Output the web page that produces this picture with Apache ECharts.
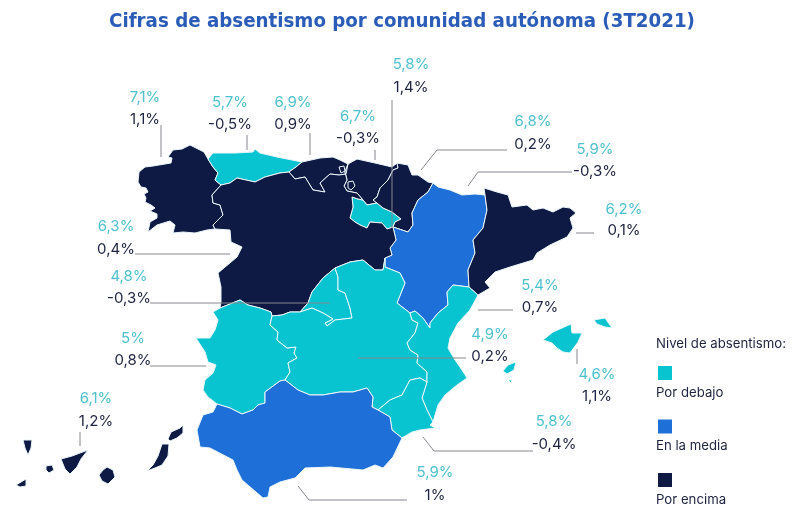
<!DOCTYPE html>
<html lang="es">
<head>
<meta charset="UTF-8">
<title>Absentismo</title>
<script src="https://cdn.jsdelivr.net/npm/echarts@6/dist/echarts.min.js"></script>
</head>
<body style="margin:0;background:#fff">
<div id="main" style="width:804px;height:525px"></div>
<script type="text/javascript">
// datos
var comunidades = ['Galicia', 'Asturias', 'Cantabria', 'País Vasco', 'La Rioja', 'Navarra', 'Aragón', 'Cataluña',
    'Castilla y León', 'Madrid', 'Extremadura', 'Castilla-La Mancha', 'C. Valenciana', 'Baleares', 'Murcia', 'Andalucía', 'Canarias'];
var tasa = [7.1, 5.7, 6.9, 6.7, 5.8, 6.8, 5.9, 6.2, 6.3, 4.8, 5, 4.9, 5.4, 4.6, 5.8, 5.9, 6.1];
var variacion = [1.1, -0.5, 0.9, -0.3, 1.4, 0.2, -0.3, 0.1, 0.4, -0.3, 0.8, 0.2, 0.7, 1.1, -0.4, 1, 1.2];
var nivel = [2, 0, 2, 2, 0, 2, 1, 2, 2, 0, 0, 0, 0, 0, 0, 1, 2];
var niveles = ['Por debajo', 'En la media', 'Por encima'];
var coloresNivel = ['#08c4d1', '#1f6fd8', '#0f1a44'];

// posicion de los textos: x, y tasa, y variacion
var posTextos = [[145, 97, 119], [230, 102, 124], [293, 102, 124], [358, 116, 138], [411, 64, 87], [533, 121, 144],
    [595, 149, 171], [624, 209, 230], [116, 226, 249], [129, 276, 298], [133, 338, 360], [490, 334, 356],
    [540, 285, 307], [597, 374, 396], [554, 421, 444], [435, 472, 495], [96, 398, 421]];
var guias = [
    [[161, 125], [161, 157]], [[247, 135], [247, 150]], [[310, 133], [310, 155]], [[375, 150], [375, 160]],
    [[392, 100], [392, 228]], [[421, 170], [437, 150], [507, 150]], [[468, 186], [478, 172], [572, 172]],
    [[576, 233], [594, 233]], [[135, 254], [230, 254]], [[150, 303], [330, 303]], [[150, 366], [206, 366]],
    [[358, 358], [466, 358]], [[478, 310], [513, 310]], [[577, 349], [577, 364]],
    [[423, 437], [434, 451], [533, 451]], [[298, 486], [309, 500], [407, 500]], [[80, 432], [80, 446]]
];

// contornos, en pixeles de la imagen (tramos compartidos entre comunidades)
var t = {
    galCosta: [[208, 159], [204, 152], [190, 145], [182, 149], [173, 150], [168, 157], [172, 158], [171, 163], [153, 166], [145, 167], [139, 172], [138, 182], [141, 187], [146, 188], [148, 192], [144, 194], [146, 198], [145, 202], [151, 205], [155, 208], [150, 211], [157, 214], [157, 218], [150, 222], [148, 232], [157, 225], [170, 221], [175, 225], [173, 233], [183, 232], [195, 233], [207, 230], [215, 229]],
    galAst: [[208, 159], [213, 167], [218, 173], [215, 180], [221, 185]],
    galCyl: [[221, 185], [212, 195], [213, 203], [220, 205], [223, 215], [213, 225], [215, 229]],
    astCosta: [[208, 159], [213, 153], [235, 153], [253, 152], [255, 149], [260, 153], [277, 157], [302, 162]],
    astCan: [[302, 162], [296, 167], [289, 172]],
    astCyl: [[221, 185], [230, 183], [237, 178], [255, 182], [265, 177], [280, 173], [289, 172]],
    canCosta: [[302, 162], [320, 158], [333, 157], [340, 160], [348, 164]],
    canCyl: [[289, 172], [295, 179], [305, 177], [313, 190], [325, 192], [320, 183], [330, 174], [339, 175], [346, 174], [348, 164]],
    vasCosta: [[348, 164], [357, 159], [375, 163], [392, 167], [397, 163]],
    vasNav: [[397, 163], [398, 168], [393, 170], [388, 180], [380, 188], [377, 197], [373, 200], [377, 203]],
    vasCyl: [[348, 164], [345, 172], [347, 180], [344, 186], [347, 191], [357, 193], [363, 200]],
    vasRio: [[363, 200], [367, 205], [377, 203]],
    rioCyl: [[363, 200], [358, 199], [352, 197], [353, 207], [350, 218], [355, 222], [360, 225], [367, 228], [370, 222], [382, 223], [387, 229], [393, 227]],
    rioNav: [[377, 203], [383, 208], [392, 212], [401, 219], [395, 222], [393, 227]],
    navCosta: [[397, 163], [408, 165], [412, 175], [418, 175], [428, 182], [433, 183]],
    navAra: [[433, 183], [428, 192], [418, 200], [412, 213], [413, 225], [408, 232], [402, 230], [393, 227]],
    araCyl: [[393, 227], [396, 240], [390, 248], [392, 255], [385, 258]],
    araTop: [[433, 183], [438, 187], [450, 190], [462, 195], [475, 194], [485, 195]],
    araCat: [[485, 195], [487, 210], [483, 228], [473, 240], [475, 253], [468, 270], [469, 287]],
    araVal: [[469, 287], [453, 285], [447, 292], [448, 305], [438, 313], [430, 323], [430, 328], [423, 318], [415, 311], [410, 313]],
    clmAra: [[385, 258], [385, 267], [400, 273], [405, 283], [397, 303], [410, 313]],
    ademuz: [[410, 313], [412, 320], [418, 323]],
    clmVal: [[418, 323], [415, 333], [407, 343], [410, 350], [418, 355], [417, 363], [427, 372], [427, 382]],
    clmMur: [[427, 382], [420, 378], [410, 380], [402, 395], [390, 400], [378, 410]],
    clmAnd: [[378, 410], [372, 407], [373, 397], [367, 388], [353, 392], [340, 392], [323, 395], [310, 395], [298, 390], [285, 380]],
    extClm: [[285, 380], [290, 372], [288, 363], [297, 358], [294, 353], [296, 347], [287, 348], [277, 340], [278, 332], [270, 325], [272, 316]],
    extCosta: [[220, 308], [213, 312], [218, 320], [215, 330], [210, 338], [196, 338], [205, 352], [208, 362], [216, 365], [213, 373], [205, 380], [203, 390], [208, 397], [217, 404]],
    extAnd: [[217, 404], [230, 408], [242, 414], [253, 410], [258, 405], [265, 403], [265, 392], [280, 381], [285, 380]],
    cylPort: [[215, 229], [230, 230], [231, 242], [242, 247], [237, 257], [218, 273], [221, 287], [221, 302], [220, 308]],
    cylExt: [[220, 308], [240, 300], [248, 305], [260, 308], [271, 312], [272, 316]],
    cylClm1: [[272, 316], [282, 315], [290, 312], [300, 312]],
    cylMad: [[300, 312], [308, 303], [312, 292], [323, 278], [335, 268]],
    cylClm2: [[335, 268], [350, 262], [363, 260], [375, 270], [383, 270], [385, 258]],
    madClm: [[335, 268], [338, 277], [338, 290], [345, 293], [350, 308], [352, 318], [335, 320], [327, 326], [325, 323], [333, 319], [323, 313], [312, 308], [300, 312]],
    catVal: [[469, 287], [478, 295]],
    catCosta: [[485, 195], [484, 188], [497, 192], [508, 195], [512, 207], [527, 205], [533, 210], [543, 208], [553, 212], [563, 207], [570, 208], [576, 213], [570, 218], [573, 228], [567, 237], [550, 245], [537, 253], [533, 260], [510, 267], [495, 272], [485, 282], [490, 288], [478, 295]],
    valCosta: [[478, 295], [470, 310], [458, 323], [450, 338], [448, 348], [455, 360], [462, 370], [467, 378], [457, 385], [445, 395], [438, 405], [433, 422]],
    valMur: [[433, 422], [427, 410], [422, 398], [427, 382]],
    murAnd: [[378, 410], [390, 417], [392, 430], [402, 438]],
    murCosta: [[402, 438], [412, 432], [420, 430], [435, 428], [430, 425], [433, 422]],
    andCosta: [[402, 438], [393, 457], [383, 468], [375, 465], [363, 470], [330, 467], [305, 468], [295, 478], [280, 482], [270, 487], [268, 497], [263, 498], [242, 480], [237, 470], [233, 460], [210, 448], [200, 447], [197, 430], [203, 415], [213, 412], [217, 404]]
};

// une tramos en un anillo; '-' delante recorre el tramo al reves
function anillo() {
    var pts = [];
    for (var i = 0; i < arguments.length; i++) {
        var n = arguments[i];
        var tramo = n[0] === '-' ? t[n.slice(1)].slice().reverse() : t[n];
        pts = pts.concat(pts.length ? tramo.slice(1) : tramo);
    }
    return pts;
}

var contornos = {
    'Galicia': [anillo('galCosta', '-galCyl', '-galAst')],
    'Asturias': [anillo('astCosta', 'astCan', '-astCyl', '-galAst')],
    'Cantabria': [anillo('canCosta', '-canCyl', '-astCan')],
    'País Vasco': [anillo('vasCosta', 'vasNav', '-vasRio', '-vasCyl')],
    'La Rioja': [anillo('rioCyl', '-rioNav', '-vasRio')],
    'Navarra': [anillo('navCosta', 'navAra', '-rioNav', '-vasNav'), [[421, 206], [424, 205], [424, 208], [421, 209]]],
    'Aragón': [anillo('-navAra', 'araTop', 'araCat', 'araVal', '-clmAra', '-araCyl')],
    'Cataluña': [anillo('catCosta', '-catVal', '-araCat')],
    'Castilla y León': [anillo('cylPort', 'cylExt', 'cylClm1', 'cylMad', 'cylClm2', '-araCyl', '-rioCyl', '-vasCyl', '-canCyl', '-astCyl', 'galCyl'),
        [[348, 182], [353, 181], [355, 186], [351, 190], [348, 188]], [[339, 167], [344, 166], [345, 171], [341, 173]]],
    'Madrid': [anillo('cylMad', 'madClm')],
    'Extremadura': [anillo('extCosta', 'extAnd', 'extClm', '-cylExt')],
    'Castilla-La Mancha': [anillo('cylClm1', '-madClm', 'cylClm2', 'clmAra', 'ademuz', 'clmVal', 'clmMur', 'clmAnd', 'extClm')],
    'C. Valenciana': [anillo('-araVal', 'catVal', 'valCosta', 'valMur', '-clmVal', '-ademuz')],
    'Baleares': [[[543, 340], [553, 332], [562, 328], [571, 324], [572, 333], [582, 333], [578, 342], [570, 353], [563, 352], [557, 348], [552, 343]],
        [[594, 320], [605, 318], [612, 328], [605, 327], [597, 324]],
        [[503, 371], [508, 365], [516, 362], [514, 370], [507, 374]],
        [[508, 380], [512, 380], [511, 383]]],
    'Murcia': [anillo('clmMur', 'murAnd', 'murCosta', 'valMur')],
    'Andalucía': [anillo('extAnd', '-clmAnd', 'murAnd', 'andCosta')],
    'Canarias': [[[16, 485], [26, 479], [26, 486], [20, 487]],
        [[23, 440], [32, 440], [31, 448], [28, 455], [25, 448]],
        [[46, 466], [52, 465], [54, 470], [49, 473], [46, 470]],
        [[61, 459], [72, 456], [88, 450], [81, 459], [77, 467], [70, 474], [65, 469]],
        [[107, 467], [113, 470], [115, 477], [108, 484], [102, 481], [99, 475], [103, 470]],
        [[162, 444], [169, 444], [168, 456], [162, 465], [155, 468], [147, 471], [153, 465], [158, 456]],
        [[168, 439], [171, 432], [180, 428], [183, 425], [183, 433], [177, 438], [170, 441]]]
};

var geoJson = {
    type: 'FeatureCollection',
    features: comunidades.map(function (nombre) {
        return {
            type: 'Feature',
            properties: { name: nombre },
            geometry: {
                type: 'MultiPolygon',
                coordinates: contornos[nombre].map(function (r) { return [r.concat([r[0]])]; })
            }
        };
    })
};
echarts.registerMap('espana', geoJson);

function pct(v) {
    return String(v).replace('.', ',') + '%';
}

var graficos = [];
guias.forEach(function (g) {
    graficos.push({
        type: 'polyline', z: 5, shape: { points: g },
        style: { fill: null, stroke: '#84888f', lineWidth: 1 }
    });
});
comunidades.forEach(function (c, i) {
    var p = posTextos[i];
    graficos.push({
        type: 'text', z: 6, x: p[0], y: p[1],
        style: { text: pct(tasa[i]), font: '15px Inter', fill: '#4dc1cd', textAlign: 'center', textVerticalAlign: 'middle' }
    });
    graficos.push({
        type: 'text', z: 6, x: p[0], y: p[2],
        style: { text: pct(variacion[i]), font: '15px Inter', fill: '#1d2340', textAlign: 'center', textVerticalAlign: 'middle' }
    });
});
// leyenda
graficos.push({
    type: 'text', z: 6, x: 656, y: 344,
    style: { text: 'Nivel de absentismo:', font: '13.2px Inter', fill: '#1d2340', textVerticalAlign: 'middle' }
});
niveles.forEach(function (n, i) {
    var y = 366 + i * 53.5;
    graficos.push({
        type: 'rect', z: 6, shape: { x: 658, y: y, width: 14, height: 14 },
        style: { fill: coloresNivel[i] }
    });
    graficos.push({
        type: 'text', z: 6, x: 656, y: y + 27,
        style: { text: n, font: '13.2px Inter', fill: '#1d2340', textVerticalAlign: 'middle' }
    });
});

var myChart = echarts.init(document.getElementById('main'));
var option = {
    animation: false,
    title: {
        text: 'Cifras de absentismo por comunidad autónoma (3T2021)',
        left: 'center',
        top: 7,
        textStyle: { fontFamily: 'DejaVu Sans Condensed, DejaVu Sans', fontWeight: 'bold', fontSize: 20.3, color: '#2a5cb8' }
    },
    series: [{
        type: 'map',
        map: 'espana',
        silent: true,
        projection: {
            project: function (p) { return p; },
            unproject: function (p) { return p; }
        },
        boundingCoords: [[0, 0], [804, 525]],
        layoutCenter: ['50%', '50%'],
        layoutSize: 804,
        label: { show: false },
        itemStyle: { borderColor: '#eaf6f9', borderWidth: 1 },
        data: comunidades.map(function (nombre, i) {
            return { name: nombre, value: tasa[i], itemStyle: { areaColor: coloresNivel[nivel[i]] } };
        })
    }],
    graphic: graficos
};
myChart.setOption(option);
</script>
</body>
</html>
